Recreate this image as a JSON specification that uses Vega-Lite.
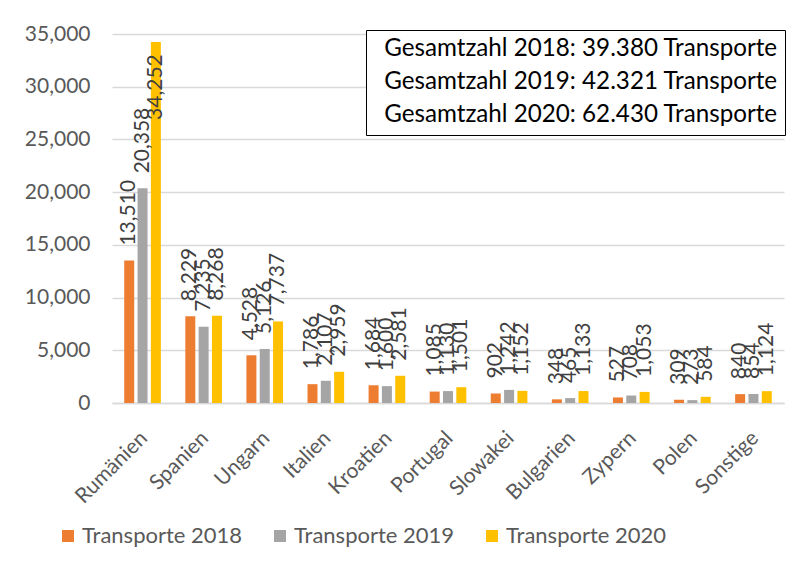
{
  "$schema": "https://vega.github.io/schema/vega-lite/v6.json",
  "width": 672,
  "height": 369,
  "autosize": {"type": "none"},
  "padding": {"left": 112, "top": 34, "right": 18, "bottom": 180},
  "background": "white",
  "config": {
    "font": "Lato",
    "view": {"stroke": null},
    "axisX": {
      "labelAngle": -45, "labelAlign": "right", "labelBaseline": "top",
      "labelFontSize": 21, "labelColor": "#595959", "labelPadding": 24, "labelOffset": -6,
      "ticks": false, "domainColor": "#d9d9d9", "domainWidth": 1.5, "grid": false
    },
    "axisY": {
      "labelFontSize": 21, "labelColor": "#595959", "labelPadding": 22,
      "ticks": false, "domain": false, "gridColor": "#d9d9d9", "gridWidth": 1.5,
      "tickCount": 8, "labelExpr": "format(datum.value, ',')"
    }
  },
  "datasets": {
    "main": [
      {"country": "Rumänien", "series": "Transporte 2018", "value": 13510},
      {"country": "Rumänien", "series": "Transporte 2019", "value": 20358},
      {"country": "Rumänien", "series": "Transporte 2020", "value": 34252},
      {"country": "Spanien", "series": "Transporte 2018", "value": 8229},
      {"country": "Spanien", "series": "Transporte 2019", "value": 7235},
      {"country": "Spanien", "series": "Transporte 2020", "value": 8268},
      {"country": "Ungarn", "series": "Transporte 2018", "value": 4528},
      {"country": "Ungarn", "series": "Transporte 2019", "value": 5126},
      {"country": "Ungarn", "series": "Transporte 2020", "value": 7737},
      {"country": "Italien", "series": "Transporte 2018", "value": 1786},
      {"country": "Italien", "series": "Transporte 2019", "value": 2107},
      {"country": "Italien", "series": "Transporte 2020", "value": 2959},
      {"country": "Kroatien", "series": "Transporte 2018", "value": 1684},
      {"country": "Kroatien", "series": "Transporte 2019", "value": 1600},
      {"country": "Kroatien", "series": "Transporte 2020", "value": 2581},
      {"country": "Portugal", "series": "Transporte 2018", "value": 1085},
      {"country": "Portugal", "series": "Transporte 2019", "value": 1130},
      {"country": "Portugal", "series": "Transporte 2020", "value": 1501},
      {"country": "Slowakei", "series": "Transporte 2018", "value": 902},
      {"country": "Slowakei", "series": "Transporte 2019", "value": 1242},
      {"country": "Slowakei", "series": "Transporte 2020", "value": 1152},
      {"country": "Bulgarien", "series": "Transporte 2018", "value": 348},
      {"country": "Bulgarien", "series": "Transporte 2019", "value": 465},
      {"country": "Bulgarien", "series": "Transporte 2020", "value": 1133},
      {"country": "Zypern", "series": "Transporte 2018", "value": 527},
      {"country": "Zypern", "series": "Transporte 2019", "value": 708},
      {"country": "Zypern", "series": "Transporte 2020", "value": 1053},
      {"country": "Polen", "series": "Transporte 2018", "value": 309},
      {"country": "Polen", "series": "Transporte 2019", "value": 273},
      {"country": "Polen", "series": "Transporte 2020", "value": 584},
      {"country": "Sonstige", "series": "Transporte 2018", "value": 840},
      {"country": "Sonstige", "series": "Transporte 2019", "value": 854},
      {"country": "Sonstige", "series": "Transporte 2020", "value": 1124}
    ],
    "info": [
      {"info": "Gesamtzahl 2018: 39.380 Transporte"},
      {"info": "Gesamtzahl 2019: 42.321 Transporte"},
      {"info": "Gesamtzahl 2020: 62.430 Transporte"}
    ]
  },
  "layer": [
    {
      "data": {"name": "main"},
      "mark": {"type": "bar"},
      "encoding": {
        "x": {
          "field": "country", "type": "nominal", "sort": null,
          "scale": {"paddingInner": 0.4, "paddingOuter": 0.2},
          "axis": {"title": null}
        },
        "xOffset": {"field": "series", "type": "nominal", "scale": {"paddingInner": 0.25}},
        "y": {
          "field": "value", "type": "quantitative",
          "scale": {"domain": [0, 35000], "nice": false},
          "axis": {"title": null}
        },
        "color": {
          "field": "series", "type": "nominal",
          "scale": {"domain": ["Transporte 2018", "Transporte 2019", "Transporte 2020"], "range": ["#ED7D31", "#A5A5A5", "#FFC000"]},
          "legend": {
            "title": null, "orient": "none", "direction": "horizontal",
            "legendX": -55, "legendY": 491, "symbolType": "square", "symbolSize": 144,
            "symbolStrokeWidth": 0, "labelFontSize": 22, "labelColor": "#595959",
            "labelLimit": 400, "labelOffset": 3, "columnPadding": 26
          }
        }
      }
    },
    {
      "data": {"name": "main"},
      "transform": [{"filter": "datum.value <= 30000"}],
      "mark": {"type": "text", "angle": 270, "align": "left", "baseline": "middle", "dx": 15, "fontSize": 21, "color": "#404040"},
      "encoding": {
        "x": {"field": "country", "type": "nominal", "sort": null, "axis": {"title": null}},
        "xOffset": {"field": "series", "type": "nominal"},
        "y": {"field": "value", "type": "quantitative", "axis": {"title": null}},
        "text": {"field": "value", "type": "quantitative", "format": ","}
      }
    },
    {
      "data": {"name": "main"},
      "transform": [{"filter": "datum.value > 30000"}],
      "mark": {"type": "text", "angle": 270, "align": "left", "baseline": "middle", "dx": -78, "fontSize": 21, "color": "#404040"},
      "encoding": {
        "x": {"field": "country", "type": "nominal", "sort": null, "axis": {"title": null}},
        "xOffset": {"field": "series", "type": "nominal"},
        "y": {"field": "value", "type": "quantitative", "axis": {"title": null}},
        "text": {"field": "value", "type": "quantitative", "format": ","}
      }
    },
    {
      "data": {"name": "info"},
      "mark": {"type": "point", "opacity": 0},
      "encoding": {
        "shape": {
          "field": "info", "type": "nominal",
          "legend": {
            "title": null, "orient": "none", "legendX": 254, "legendY": -4,
            "strokeColor": "black", "fillColor": "white", "padding": 7,
            "symbolSize": 1, "symbolOpacity": 0, "symbolStrokeWidth": 0, "symbolFillColor": "white",
            "labelOffset": -13, "labelFontSize": 24.2, "labelColor": "black", "labelLimit": 600,
            "rowPadding": 8
          }
        }
      }
    }
  ]
}
